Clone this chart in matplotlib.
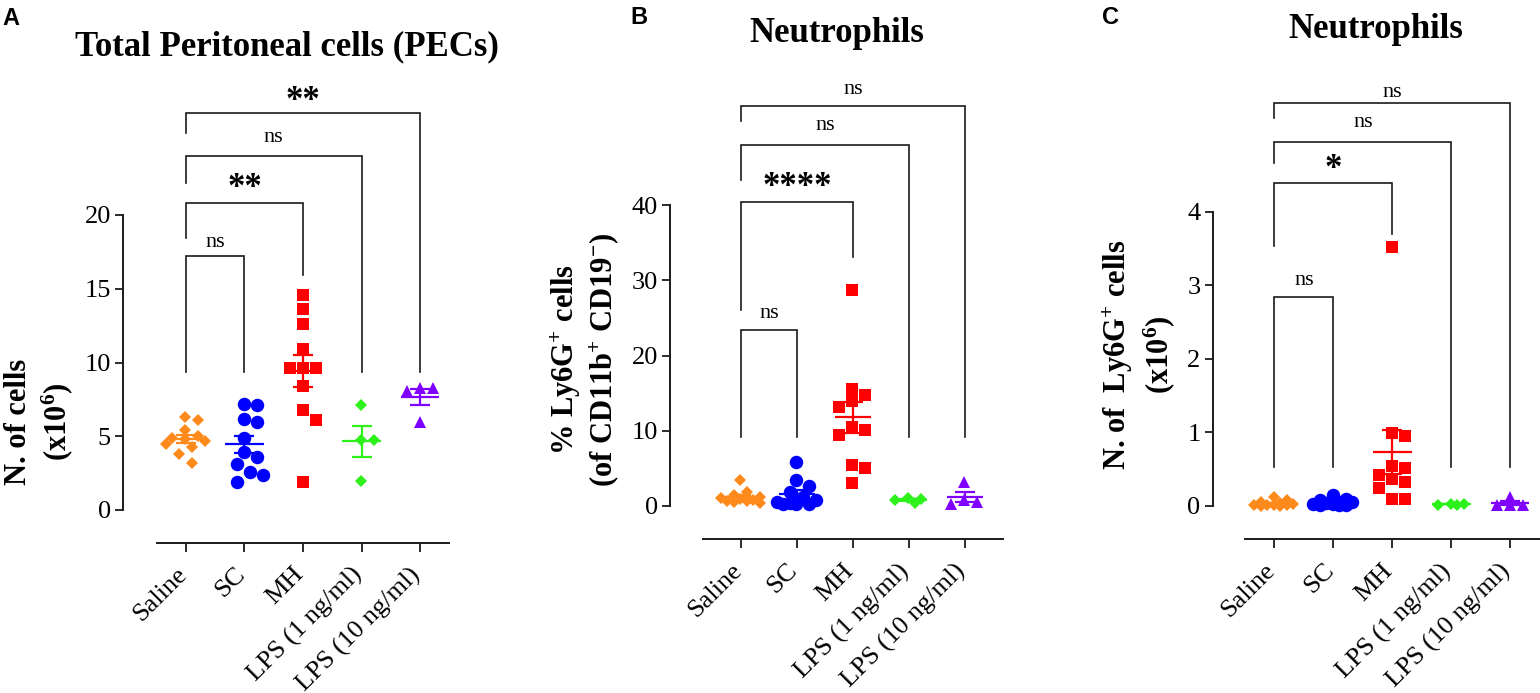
import numpy as np
import matplotlib
matplotlib.use("Agg")
import matplotlib.pyplot as plt
import matplotlib.transforms as mtransforms

#==============================================================
# DATA
#==============================================================
groups = ["Saline", "SC", "MH", "LPS (1 ng/ml)", "LPS (10 ng/ml)"]

# A: total peritoneal cells (x10^6)
pec_saline = [6.3, 6.1, 5.4, 5.0, 4.9, 4.8, 4.7, 4.5, 4.3, 3.8, 3.2]
pec_sc     = [7.2, 7.1, 6.2, 6.0, 4.9, 3.9, 3.6, 3.1, 2.6, 2.4, 1.9]
pec_mh     = [14.6, 13.6, 12.6, 10.9, 9.6, 9.6, 9.6, 8.4, 6.8, 6.1, 1.9]
pec_lps1   = [7.1, 4.75, 4.75, 2.0]
pec_lps10  = [8.3, 8.1, 8.3, 6.0]

# B: % Ly6G+ cells (of CD11b+ CD19-)
pct_saline = [3.4, 1.9, 1.5, 1.2, 1.0, 0.9, 0.8, 0.7, 0.6, 0.5, 0.4]
pct_sc     = [5.9, 3.4, 2.6, 1.8, 1.2, 0.8, 0.5, 0.4, 0.3, 0.2, 0.2]
pct_mh     = [28.7, 15.6, 14.7, 13.9, 13.2, 10.5, 10.1, 9.4, 5.4, 5.0, 3.0]
pct_lps1   = [0.4, 0.8, 1.0, 0.9]
pct_lps10  = [3.2, 0.5, 0.8, 0.3]

# C: N. of Ly6G+ cells (x10^6)
num_saline = [0.12, 0.08, 0.06, 0.04, 0.03, 0.02, 0.02, 0.01, 0.01, 0.0, 0.0]
num_sc     = [0.15, 0.10, 0.08, 0.06, 0.05, 0.04, 0.03, 0.03, 0.02, 0.02, 0.01]
num_mh     = [3.52, 0.99, 0.95, 0.55, 0.52, 0.42, 0.37, 0.32, 0.24, 0.10, 0.09]
num_lps1   = [0.02, 0.03, 0.02, 0.03]
num_lps10  = [0.12, 0.02, 0.01, 0.02]

# comparisons against Saline
pairs = [(0, 1), (0, 2), (0, 3), (0, 4)]
sig_A = ["ns", "**", "ns", "**"]
sig_B = ["ns", "****", "ns", "ns"]
sig_C = ["ns", "*", "ns", "ns"]

#==============================================================
# STYLE
#==============================================================
W, H = 1540, 693
plt.rcParams['font.family'] = 'serif'
plt.rcParams['font.serif'] = ['Liberation Serif', 'DejaVu Serif']
plt.rcParams['mathtext.fontset'] = 'custom'
plt.rcParams['mathtext.rm'] = 'Liberation Serif'
plt.rcParams['mathtext.it'] = 'Liberation Serif:italic'
plt.rcParams['mathtext.bf'] = 'Liberation Serif:bold'

colors  = ['#FF8A1C', '#0000FF', '#FF0000', '#2EF01A', '#8000FF']
markers = ['D', 'o', 's', 'D', '^']
msizes  = [6.5, 9.7, 9.1, 6.5, 9.1]
LINE = '#1a1a1a'


def fx(x):
    return x / W


def fy(y):
    return 1 - y / H


def swarm_x(ax, x0, vals, d=13.0, maxoff=20.0):
    # spread overlapping points sideways (in pixels), GraphPad-like
    vals = np.asarray(vals, dtype=float)
    pts = ax.transData.transform(np.column_stack([np.full(len(vals), x0), vals]))
    ys = pts[:, 1]
    ppg = ax.transData.transform((1, 0))[0] - ax.transData.transform((0, 0))[0]
    cands = sorted(np.arange(-maxoff, maxoff + 0.01, d / 2), key=abs)
    placed = []
    offs = np.zeros(len(vals))
    for i in np.argsort(-vals, kind='stable'):
        best, bestd = 0.0, -1.0
        for c in cands:
            md = min([np.hypot(c - ox, ys[i] - oy) for ox, oy in placed], default=np.inf)
            if md >= d * 0.95:
                best = c
                break
            if md > bestd:
                bestd, best = md, c
        placed.append((best, ys[i]))
        offs[i] = best
    return x0 + offs / ppg


panels = [
    dict(data=[pec_saline, pec_sc, pec_mh, pec_lps1, pec_lps10], sig=sig_A,
         left=156.7, right=449.3, top=70, bottom=543, yaxis=123, zero=510, ppu=14.75,
         xlim=(-0.5, 4.5), yticks=[0, 5, 10, 15, 20],
         br_top=[17.22, 20.81, 24.0, 26.92], br_lb=[9.38, 18.44, 22.17, 25.56],
         br_rb=[9.38, 15.93, 9.38, 9.38], lab_y=[17.85, 21.19, 24.97, 27.12]),
    dict(data=[pct_saline, pct_sc, pct_mh, pct_lps1, pct_lps10], sig=sig_B,
         left=703.3, right=1003.3, top=70, bottom=539.3, yaxis=670, zero=506, ppu=7.525,
         xlim=(-0.673, 4.684), yticks=[0, 10, 20, 30, 40],
         br_top=[23.4, 40.4, 48.0, 53.2], br_lb=[9.2, 26.0, 43.3, 51.1],
         br_rb=[9.2, 33.1, 9.2, 9.2], lab_y=[24.94, 41.24, 49.97, 54.75]),
    dict(data=[num_saline, num_sc, num_mh, num_lps1, num_lps10], sig=sig_C,
         left=1245, right=1539.5, top=70, bottom=539.3, yaxis=1212.7, zero=506, ppu=73.6,
         xlim=(-0.5, 4.5), yticks=[0, 1, 2, 3, 4],
         br_top=[2.844, 4.385, 4.942, 5.48], br_lb=[0.526, 3.533, 4.656, 5.27],
         br_rb=[0.526, 3.696, 0.526, 0.526], lab_y=[3.003, 4.452, 5.154, 5.561]),
]

fig = plt.figure(figsize=(W / 100, H / 100), dpi=100)

for p in panels:
    ax = fig.add_axes([fx(p['left']), fy(p['bottom']),
                       (p['right'] - p['left']) / W, (p['bottom'] - p['top']) / H])
    ax.set_xlim(p['xlim'])
    ax.set_ylim((p['zero'] - p['bottom']) / p['ppu'], (p['zero'] - p['top']) / p['ppu'])
    ax.patch.set_alpha(0)
    for s in ['top', 'right']:
        ax.spines[s].set_visible(False)
    for s in ['left', 'bottom']:
        ax.spines[s].set_linewidth(1.4)
        ax.spines[s].set_color(LINE)
    ax.spines['left'].set_position(('outward', (p['left'] - p['yaxis']) * 0.72))
    ax.spines['left'].set_bounds(p['yticks'][0], p['yticks'][-1])

    # scatter + mean +- SEM
    for i, vals in enumerate(p['data']):
        xs = swarm_x(ax, i, vals)
        ax.plot(xs, vals, ls='none', marker=markers[i], ms=msizes[i], color=colors[i],
                mew=0, zorder=3, clip_on=False)
        m = np.mean(vals)
        sem = np.std(vals, ddof=1) / np.sqrt(len(vals))
        ax.hlines(m, i - 0.33, i + 0.33, color=colors[i], lw=1.6, zorder=4)
        ax.errorbar(i, m, yerr=sem, fmt='none', ecolor=colors[i], elinewidth=1.6,
                    capsize=7, capthick=1.6, zorder=4)

    # significance brackets
    for k, (a, b) in enumerate(pairs):
        ax.plot([a, a, b, b], [p['br_lb'][k], p['br_top'][k], p['br_top'][k], p['br_rb'][k]],
                color=LINE, lw=1.2, clip_on=False, solid_joinstyle='miter')
        lab = p['sig'][k]
        if '*' in lab:
            ax.text((a + b) / 2, p['lab_y'][k], lab, ha='center', va='baseline',
                    fontsize=25, fontweight='bold')
        else:
            ax.text((a + b) / 2, p['lab_y'][k], lab, ha='center', va='baseline', fontsize=16)

    ax.set_yticks(p['yticks'])
    ax.tick_params(axis='y', direction='out', length=5.8, width=1.3, color=LINE,
                   labelsize=19, pad=3)
    ax.set_xticks(range(len(groups)))
    ax.set_xticklabels(groups, rotation=45, ha='right', fontsize=19)
    ax.tick_params(axis='x', direction='out', length=6.5, width=1.3, color=LINE, pad=8)
    shift = mtransforms.ScaledTranslation(5 / 100, 0, fig.dpi_scale_trans)
    for lbl in ax.get_xticklabels():
        lbl.set_transform(lbl.get_transform() + shift)

# titles
fig.text(fx(286.7), fy(55), "Total Peritoneal cells (PECs)", ha='center', va='baseline',
         fontsize=25, fontweight='bold')
fig.text(fx(836.7), fy(41.5), "Neutrophils", ha='center', va='baseline',
         fontsize=25, fontweight='bold')
fig.text(fx(1375.8), fy(38), "Neutrophils", ha='center', va='baseline',
         fontsize=25, fontweight='bold')

# panel letters
for letter, x, y in [("A", 2, 25), ("B", 630, 24), ("C", 1102, 24)]:
    fig.text(fx(x), fy(y), letter, family='Liberation Sans', fontweight='bold',
             fontsize=17, ha='left', va='baseline')

# y labels
fig.text(fx(39.5), fy(422), "N. of cells\n" + r"(x10$^{\mathbf{6}}$)", rotation=90,
         ha='center', va='center', multialignment='center', fontsize=22, fontweight='bold')
fig.text(fx(585), fy(360), r"% Ly6G$^{\mathbf{+}}$ cells" + "\n" +
         r"(of CD11b$^{\mathbf{+}}$ CD19$^{\mathbf{-}}$)", rotation=90,
         ha='center', va='center', multialignment='center', fontsize=22, fontweight='bold')
fig.text(fx(1139), fy(355), r"N. of  Ly6G$^{\mathbf{+}}$ cells" + "\n" + r"(x10$^{\mathbf{6}}$)",
         rotation=90, ha='center', va='center', multialignment='center', fontsize=22,
         fontweight='bold')

fig.savefig("out.png", dpi=100)
